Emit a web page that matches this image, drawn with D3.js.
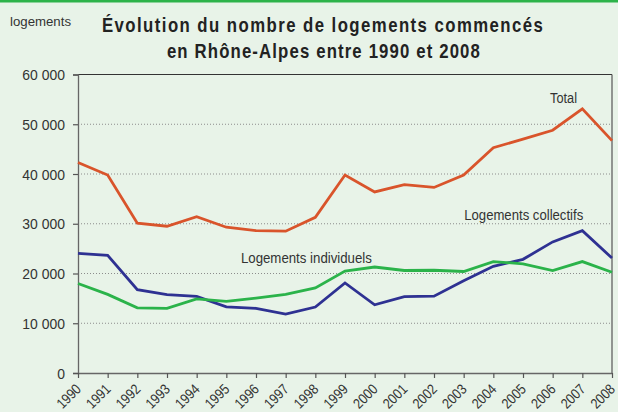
<!DOCTYPE html>
<html><head><meta charset="utf-8">
<script src="https://cdn.jsdelivr.net/npm/d3@7"></script>
<style>
html,body{margin:0;padding:0;background:#e8f3e8;}
svg{display:block;}
text{font-family:"Liberation Sans",Arial,sans-serif;}
</style></head><body>
<svg id="c" width="618" height="412"></svg>
<script>
const years = d3.range(1990, 2009);
const total = [42300,39800,30100,29500,31400,29300,28600,28500,31300,39800,36400,37850,37300,39800,45300,47000,48800,53100,46700];
const collectifs = [24050,23650,16750,15750,15400,13300,13000,11850,13250,18100,13700,15350,15450,18550,21450,22850,26350,28600,23100];
const individuels = [18000,15800,13100,13000,14900,14400,15050,15800,17100,20500,21300,20600,20650,20400,22400,21950,20600,22400,20250];
const yTicks = [0,10000,20000,30000,40000,50000,60000];
const seriesNames = ["Total","Logements collectifs","Logements individuels"];
const colors = ["#d9542b","#2e3192","#2bb34a"];

const svg = d3.select("#c");
const W=618,H=412, L=78, R=612, T=74.5, B=373;
svg.append("rect").attr("width",W).attr("height",H).attr("fill","#e8f3e8");
svg.append("rect").attr("width",W).attr("height",2.5).attr("fill","#2db34a");

const x = d3.scaleLinear().domain([1990,2008]).range([L,R]);
const y = d3.scaleLinear().domain([0,60000]).range([B,T]);

function ctext(g, px, py, str, opts){
  const t = g.append("text")
    .attr("transform",`translate(${px},${py}) scale(${opts.sx||1},1)`)
    .attr("x",0).attr("y",0)
    .attr("font-size",opts.fs).attr("fill",opts.fill||"#333")
    .attr("text-anchor",opts.anchor||"start").text(str);
  if(opts.fw) t.attr("font-weight",opts.fw);
  if(opts.len){ t.attr("textLength",opts.len/(opts.sx||1)).attr("lengthAdjust",opts.adj||"spacing"); }
  return t;
}

// grid
svg.append("g").selectAll("line").data(yTicks.filter(d=>d>0&&d<60000)).join("line")
  .attr("x1",L).attr("x2",R).attr("y1",d=>y(d)).attr("y2",d=>y(d))
  .attr("stroke","#8c8c8c").attr("stroke-width",1).attr("stroke-dasharray","1,2");

// frame top/right
svg.append("line").attr("x1",L).attr("x2",R).attr("y1",y(60000)).attr("y2",y(60000)).attr("stroke","#333").attr("stroke-width",1.2);
svg.append("line").attr("x1",R).attr("x2",R).attr("y1",y(60000)).attr("y2",y(0)).attr("stroke","#555").attr("stroke-width",1.2);

// y axis
const ya = svg.append("g").attr("transform",`translate(${L},0)`)
  .call(d3.axisLeft(y).tickValues(yTicks).tickSize(5).tickFormat(""));
ya.select(".domain").attr("stroke","#666").attr("stroke-width",1.3);
ya.selectAll(".tick line").attr("stroke","#555").attr("stroke-width",1.2);
const yl = svg.append("g");
yTicks.forEach(v=>{
  ctext(yl, 65, y(v)+5.5, d3.format(",")(v).replace(/,/g," "), {fs:15.5, sx:0.9, anchor:"end"});
});

// x axis
const xa = svg.append("g").attr("transform",`translate(0,${B})`)
  .call(d3.axisBottom(x).tickValues(years).tickSize(5).tickSizeOuter(0).tickFormat(""));
xa.select(".domain").attr("stroke","#666").attr("stroke-width",1.3);
xa.selectAll(".tick line").attr("stroke","#555").attr("stroke-width",1.2);
const xl = svg.append("g");
years.forEach(yr=>{
  xl.append("text")
    .attr("transform",`translate(${x(yr)+4},${B+17}) rotate(-45) scale(0.86,1)`)
    .attr("font-size",14.5).attr("fill","#333").attr("text-anchor","end").text(String(yr));
});

// lines
const line = d3.line().x((d,i)=>x(years[i])).y(d=>y(d));
[total,collectifs,individuels].forEach((s,k)=>{
  svg.append("path").datum(s).attr("d",line).attr("fill","none")
    .attr("stroke",colors[k]).attr("stroke-width",2.8).attr("stroke-linejoin","miter");
});

// series labels
const lab = svg.append("g");
ctext(lab, 563.5, 103, seriesNames[0], {fs:15, sx:0.88, anchor:"middle", len:27, adj:"spacingAndGlyphs"});
ctext(lab, 523.7, 220, seriesNames[1], {fs:15, sx:0.88, anchor:"middle", len:119, adj:"spacingAndGlyphs"});
ctext(lab, 306.4, 263, seriesNames[2], {fs:15, sx:0.88, anchor:"middle", len:131, adj:"spacingAndGlyphs"});

// title
ctext(svg, 10, 26, "logements", {fs:13.5, sx:0.88, len:61, adj:"spacingAndGlyphs"});
ctext(svg, 322.4, 32, "Évolution du nombre de logements commencés", {fs:19.5, sx:0.86, fw:"bold", fill:"#222", anchor:"middle", len:441});
ctext(svg, 323.4, 58, "en Rhône-Alpes entre 1990 et 2008", {fs:19.5, sx:0.86, fw:"bold", fill:"#222", anchor:"middle", len:313});
</script></body></html>
